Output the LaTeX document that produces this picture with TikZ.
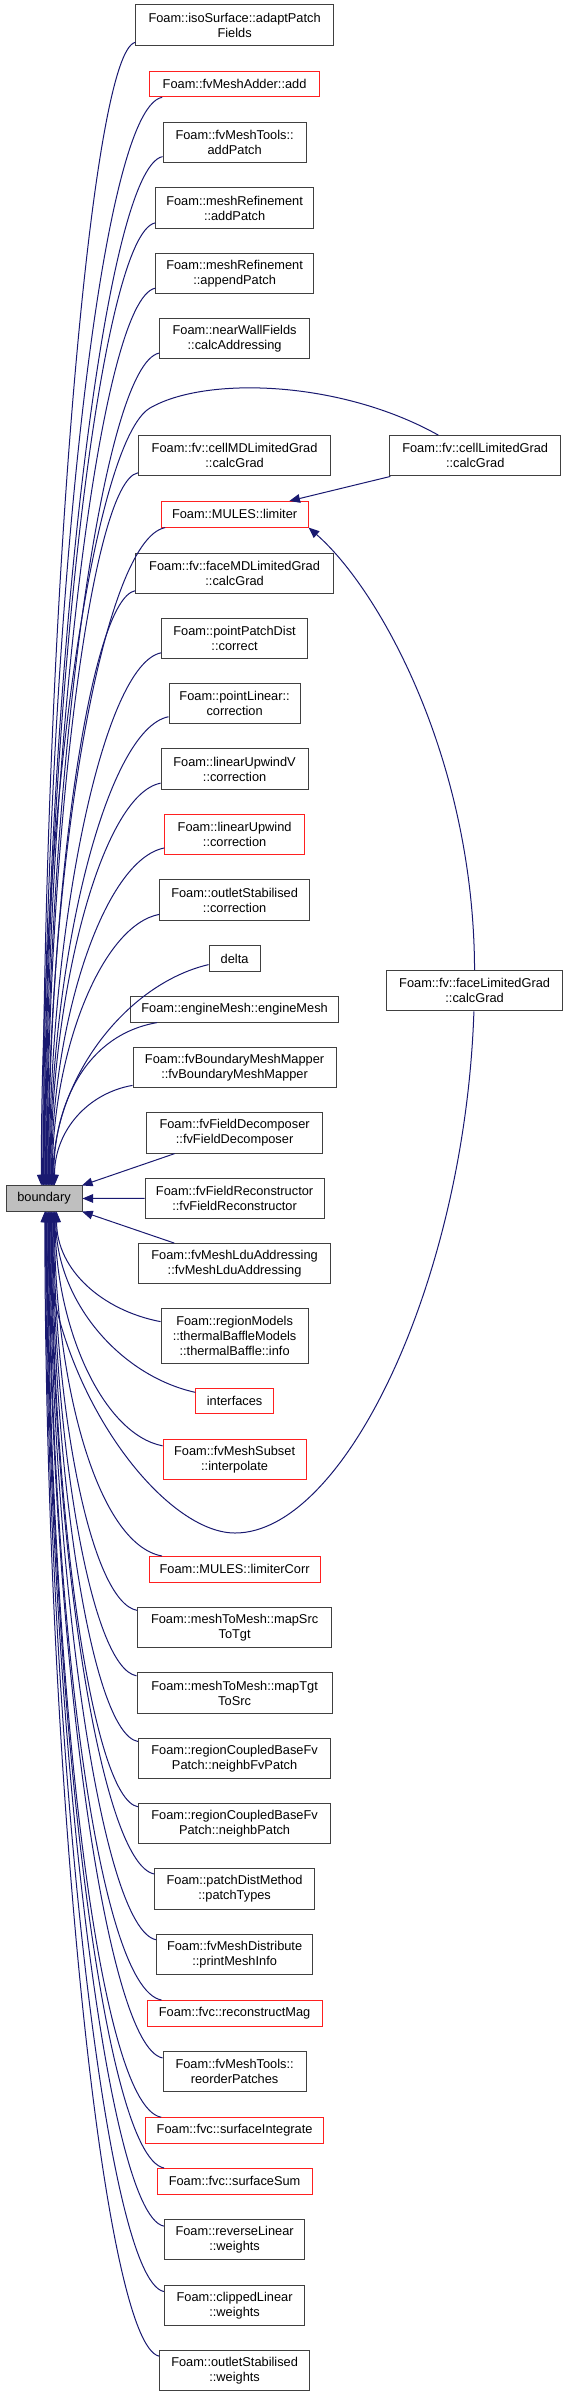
\documentclass[tikz,border=0pt]{standalone}
\usepackage{fontspec}
\setmainfont{Liberation Sans}
\usetikzlibrary{arrows.meta,calc}
\definecolor{edgeblue}{HTML}{191970}
\definecolor{truncred}{HTML}{FF2020}
\definecolor{rootgray}{HTML}{BFBFBF}

\begin{document}
\begin{tikzpicture}[x=0.75pt,y=-0.75pt,>={Triangle[length=8pt,width=6.5pt]},
  fn/.style={draw=black!75,line width=0.75pt,align=center,inner sep=0pt,
    font=\fontsize{9.6}{11.25}\selectfont,minimum height=30.2pt},
  one/.style={minimum height=19.2pt},
  three/.style={minimum height=41.3pt},
  trunc/.style={draw=truncred},
  call/.style={<-,edgeblue,line width=0.75pt}]
  \useasboundingbox (0,0) rectangle (568,2396);

  % callers above the root
  \node[fn,minimum width=148.0pt] (isoSurface) at (234.6,25) {Foam::isoSurface::adaptPatch\\Fields};
  \node[fn,one,trunc,minimum width=127.5pt] (fvMeshAdder) at (234.6,84) {Foam::fvMeshAdder::add};
  \node[fn,minimum width=107.3pt] (addPatchTools) at (234.6,142.7) {Foam::fvMeshTools::\\addPatch};
  \node[fn,minimum width=118.2pt] (addPatchRefine) at (234.6,208) {Foam::meshRefinement\\::addPatch};
  \node[fn,minimum width=118.2pt] (appendPatch) at (234.6,273.3) {Foam::meshRefinement\\::appendPatch};
  \node[fn,minimum width=112.2pt] (calcAddressing) at (234.6,338.7) {Foam::nearWallFields\\::calcAddressing};
  \node[fn,minimum width=144.3pt] (cellMDGrad) at (234.6,455.8) {Foam::fv::cellMDLimitedGrad\\::calcGrad};
  \node[fn,minimum width=128.6pt] (cellGrad) at (475.2,455.8) {Foam::fv::cellLimitedGrad\\::calcGrad};
  \node[fn,one,trunc,minimum width=110.3pt] (limiter) at (234.6,514.3) {Foam::MULES::limiter};
  \node[fn,minimum width=148.0pt] (faceMDGrad) at (234.6,573.3) {Foam::fv::faceMDLimitedGrad\\::calcGrad};
  \node[fn,minimum width=109.2pt] (pointPatchDist) at (234.6,638.7) {Foam::pointPatchDist\\::correct};
  \node[fn,minimum width=98.4pt] (pointLinear) at (234.6,703.7) {Foam::pointLinear::\\correction};
  \node[fn,minimum width=110.3pt] (linearUpwindV) at (234.6,769) {Foam::linearUpwindV\\::correction};
  \node[fn,trunc,minimum width=104.6pt] (linearUpwind) at (234.6,834.3) {Foam::linearUpwind\\::correction};
  \node[fn,minimum width=112.2pt] (outletCorrection) at (234.6,900) {Foam::outletStabilised\\::correction};
  \node[fn,one,minimum width=38.3pt] (delta) at (234.6,958.5) {delta};
  \node[fn,one,minimum width=156.3pt] (engineMesh) at (234.6,1009.3) {Foam::engineMesh::engineMesh};
  \node[fn,minimum width=132.1pt] (faceGrad) at (474.6,990.7) {Foam::fv::faceLimitedGrad\\::calcGrad};
  \node[fn,minimum width=152.4pt] (bMeshMapper) at (234.6,1067.7) {Foam::fvBoundaryMeshMapper\\::fvBoundaryMeshMapper};
  \node[fn,minimum width=131.6pt] (decomposer) at (234.6,1133) {Foam::fvFieldDecomposer\\::fvFieldDecomposer};

  % the root and its row
  \node[fn,fill=rootgray,minimum width=57pt,minimum height=18.8pt] (boundary) at (44,1198.5) {boundary};
  \node[fn,minimum width=134.3pt] (reconstructor) at (234.6,1198.3) {Foam::fvFieldReconstructor\\::fvFieldReconstructor};

  % callers below the root
  \node[fn,minimum width=143.6pt] (lduAddressing) at (234.6,1263.7) {Foam::fvMeshLduAddressing\\::fvMeshLduAddressing};
  \node[fn,three,minimum width=110.3pt] (baffleInfo) at (234.6,1335.8) {Foam::regionModels\\::thermalBaffleModels\\::thermalBaffle::info};
  \node[fn,one,trunc,minimum width=58.1pt] (interfaces) at (234.6,1401) {interfaces};
  \node[fn,trunc,minimum width=107.3pt] (interpolate) at (234.6,1459.7) {Foam::fvMeshSubset\\::interpolate};
  \node[fn,one,trunc,minimum width=128.3pt] (limiterCorr) at (234.6,1569.3) {Foam::MULES::limiterCorr};
  \node[fn,minimum width=145.4pt] (mapSrcToTgt) at (234.6,1627.5) {Foam::meshToMesh::mapSrc\\ToTgt};
  \node[fn,minimum width=146.4pt] (mapTgtToSrc) at (234.6,1693) {Foam::meshToMesh::mapTgt\\ToSrc};
  \node[fn,minimum width=144.3pt] (neighbFvPatch) at (234.6,1758.5) {Foam::regionCoupledBaseFv\\Patch::neighbFvPatch};
  \node[fn,minimum width=144.3pt] (neighbPatch) at (234.6,1823.8) {Foam::regionCoupledBaseFv\\Patch::neighbPatch};
  \node[fn,minimum width=119.6pt] (patchTypes) at (234.6,1889) {Foam::patchDistMethod\\::patchTypes};
  \node[fn,minimum width=116.9pt] (printMeshInfo) at (234.6,1954.5) {Foam::fvMeshDistribute\\::printMeshInfo};
  \node[fn,one,trunc,minimum width=131.3pt] (reconstructMag) at (234.6,2013.3) {Foam::fvc::reconstructMag};
  \node[fn,minimum width=107.3pt] (reorderPatches) at (234.6,2071.8) {Foam::fvMeshTools::\\reorderPatches};
  \node[fn,one,trunc,minimum width=133.1pt] (surfaceIntegrate) at (234.6,2130.5) {Foam::fvc::surfaceIntegrate};
  \node[fn,one,trunc,minimum width=116.3pt] (surfaceSum) at (234.6,2181.3) {Foam::fvc::surfaceSum};
  \node[fn,minimum width=105.4pt] (reverseWeights) at (234.6,2239.8) {Foam::reverseLinear\\::weights};
  \node[fn,minimum width=105.4pt] (clippedWeights) at (234.6,2305.2) {Foam::clippedLinear\\::weights};
  \node[fn,minimum width=112.2pt] (outletWeights) at (234.6,2370.5) {Foam::outletStabilised\\::weights};

  % calls into the root from above
  \foreach \src [count=\i] in {isoSurface,fvMeshAdder,addPatchTools,addPatchRefine,appendPatch,
      calcAddressing,cellMDGrad,limiter,faceMDGrad,pointPatchDist,pointLinear,linearUpwindV,
      linearUpwind,outletCorrection,delta,engineMesh,bMeshMapper}{
    \pgfmathsetmacro{\dx}{0.55*\i-1.5}
    \draw[call] let \p1=(boundary.north), \p2=(\src.west) in
      (\x1+\dx pt,\y1) .. controls (\x1+\dx pt,{\y1+0.47*(\y2-\y1)}) and ({0.5*(\x1+\x2)},\y2-19pt) .. (\src);
  }
  % calls into the root from below
  \foreach \src [count=\i] in {baffleInfo,interfaces,interpolate,limiterCorr,mapSrcToTgt,mapTgtToSrc,
      neighbFvPatch,neighbPatch,patchTypes,printMeshInfo,reconstructMag,reorderPatches,
      surfaceIntegrate,surfaceSum,reverseWeights,clippedWeights,outletWeights}{
    \pgfmathsetmacro{\dx}{10-0.55*\i}
    \draw[call] let \p1=(boundary.south), \p2=(\src.west) in
      (\x1+\dx pt,\y1) .. controls (\x1+\dx pt,{\y1+0.47*(\y2-\y1)}) and ({0.5*(\x1+\x2)},\y2+19pt) .. (\src);
  }
  \draw[call] (boundary) -- (decomposer);
  \draw[call] (boundary) -- (reconstructor);
  \draw[call] (boundary) -- (lduAddressing);

  % the two gradient limiters
  \draw[call] ([xshift=-2pt]boundary.north) .. controls (41,800) and (95,440) .. (150,408)
    .. controls (205,376) and (340,380) .. (cellGrad);
  \draw[call] (limiter) -- (cellGrad);
  \draw[call] (limiter.south east) .. controls (380,590) and (474,760) .. (faceGrad);
  \draw[call] ([xshift=1pt]boundary.south) .. controls (46,1380) and (160,1533) .. (235,1533)
    .. controls (345,1533) and (465,1280) .. (faceGrad);
\end{tikzpicture}
\end{document}
